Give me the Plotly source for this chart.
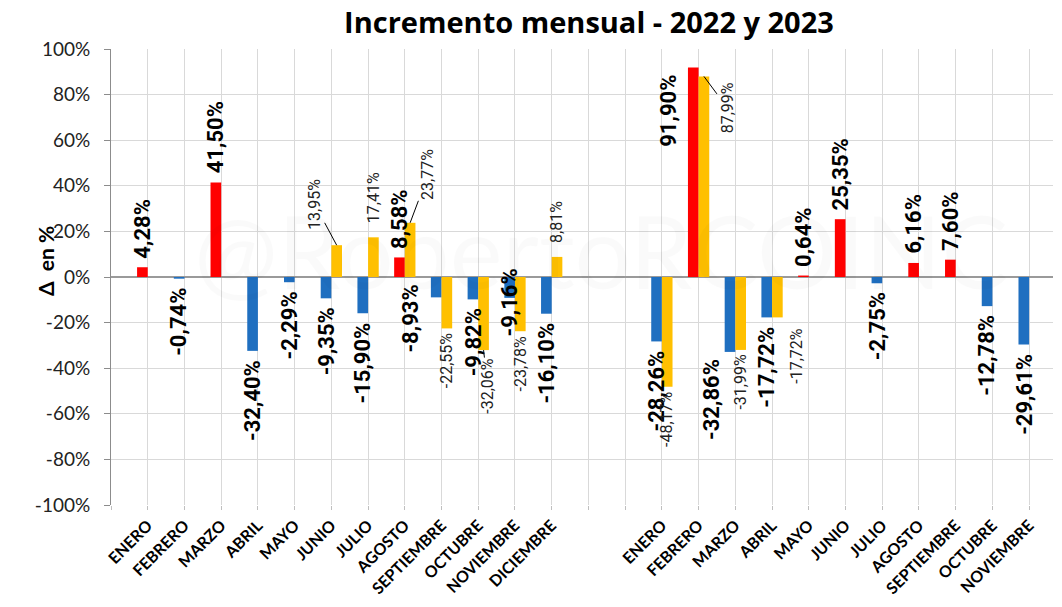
import plotly.graph_objects as go

# ---------------- data ----------------
meses_2022 = ["ENERO", "FEBRERO", "MARZO", "ABRIL", "MAYO", "JUNIO", "JULIO",
              "AGOSTO", "SEPTIEMBRE", "OCTUBRE", "NOVIEMBRE", "DICIEMBRE"]
meses_2023 = ["ENERO", "FEBRERO", "MARZO", "ABRIL", "MAYO", "JUNIO", "JULIO",
              "AGOSTO", "SEPTIEMBRE", "OCTUBRE", "NOVIEMBRE"]

var_2022 = [4.28, -0.74, 41.50, -32.40, -2.29, -9.35, -15.90, 8.58, -8.93, -9.82, -9.16, -16.10]
var2_2022 = [None, None, None, None, None, 13.95, 17.41, 23.77, -22.55, -32.06, -23.78, 8.81]

var_2023 = [-28.26, 91.90, -32.86, -17.72, 0.64, 25.35, -2.75, 6.16, 7.60, -12.78, -29.61]
var2_2023 = [-48.17, 87.99, -31.99, -17.72, None, None, None, None, None, None, None]

y_ticks = [-100, -80, -60, -40, -20, 0, 20, 40, 60, 80, 100]

# ---------------- layout helpers ----------------
GAP_SLOTS = 2  # empty category slots between years
pos_2022 = [i + 1 for i in range(len(meses_2022))]
pos_2023 = [len(meses_2022) + GAP_SLOTS + 1 + i for i in range(len(meses_2023))]
n_slots = pos_2023[-1]

xs = pos_2022 + pos_2023
serie_a = var_2022 + var_2023
serie_b = var2_2022 + var2_2023

BW = 0.29
RED, BLUE, YELLOW = "#FF0000", "#1F6FC0", "#FFC000"

# custom label offsets (px from bar end to label centre), arrow = leader line
custom = {
    ("b", 6): dict(dx=-22, dy=-41, arrow=True),
    ("b", 8): dict(dx=18, dy=-48, arrow=True),
    ("a", 9): dict(dx=-26, dy=21, arrow=False),
    ("b", 10): dict(dx=4, dy=36, arrow=True),
    ("a", 11): dict(dx=0, dy=5, arrow=False),
    ("a", 16): dict(dx=-25, dy=43, arrow=False),
    ("b", 16): dict(dx=23, dy=31, arrow=True),
    ("a", 17): dict(dx=-18, dy=48, arrow=False),
    ("b", 18): dict(dx=19, dy=38, arrow=False),
}


def fmt(v):
    return f"{v:.2f}".replace(".", ",") + "%"


fig = go.Figure()

fig.add_trace(go.Bar(
    x=xs, y=serie_a, width=BW, offset=-BW,
    marker=dict(color=[RED if v >= 0 else BLUE for v in serie_a], line=dict(width=0)),
    showlegend=False, hoverinfo="skip"))

bx = [x for x, v in zip(xs, serie_b) if v is not None]
by = [v for v in serie_b if v is not None]
fig.add_trace(go.Bar(
    x=bx, y=by, width=BW, offset=0,
    marker=dict(color=YELLOW, line=dict(width=0)),
    showlegend=False, hoverinfo="skip"))

annotations = []
big_font = dict(family="Roboto", size=22, color="#000000", weight="bold")
small_font = dict(family="Roboto", size=16, color="#222222")

# watermark (very faint, behind labels)
annotations.append(dict(
    x=0.52, y=0.56, xref="paper", yref="paper", text="@RobertoRCOINC",
    showarrow=False, font=dict(family="Lato", size=100, color="rgba(0,0,0,0.02)")))

for ser, vals in (("a", serie_a), ("b", serie_b)):
    for x, v in zip(xs, vals):
        if v is None:
            continue
        xc = x - BW / 2 if ser == "a" else x + BW / 2
        font = big_font if ser == "a" else small_font
        key = (ser, x)
        if key in custom:
            c = custom[key]
            if c["arrow"]:
                annotations.append(dict(
                    x=xc, y=v, xref="x", yref="y", text=fmt(v), textangle=-90,
                    showarrow=True, arrowhead=0, arrowwidth=1, arrowcolor="#000",
                    ax=c["dx"], ay=c["dy"], font=font, borderpad=0))
            else:
                annotations.append(dict(
                    x=xc, y=v, xref="x", yref="y", text=fmt(v), textangle=-90,
                    showarrow=False, xanchor="center", yanchor="middle",
                    xshift=c["dx"], yshift=-c["dy"], font=font, borderpad=0))
        else:
            if ser == "a":
                gap = 8
            else:
                gap = 13 if v >= 0 else 3
            annotations.append(dict(
                x=xc, y=v, xref="x", yref="y", text=fmt(v), textangle=-90,
                showarrow=False, xanchor="center",
                yanchor="bottom" if v >= 0 else "top",
                yshift=gap if v >= 0 else -gap, font=font, borderpad=0))

# axis title
annotations.append(dict(
    x=-0.07, y=0.535, xref="paper", yref="paper", text="Δ  en %", textangle=-90,
    xanchor="center", yanchor="middle",
    showarrow=False, font=dict(family="Lato", size=21, color="#000", weight="bold")))

tickvals = list(range(0, n_slots + 1))
ticktext = [""] * len(tickvals)
for p, m in zip(pos_2022, meses_2022):
    ticktext[p] = m
for p, m in zip(pos_2023, meses_2023):
    ticktext[p] = m

fig.update_layout(
    width=1062, height=607,
    margin=dict(l=111, r=9, t=49, b=102),
    paper_bgcolor="white", plot_bgcolor="white",
    barmode="overlay",
    hovermode=False,
    title=dict(text="<b>Incremento mensual - 2022 y 2023</b>", x=0.5546, xanchor="center",
               y=0.962, yanchor="middle",
               font=dict(family="Open Sans", size=29, color="#000")),
    annotations=annotations,
    xaxis=dict(
        range=[0, n_slots + 0.65], tickmode="array", tickvals=tickvals, ticktext=ticktext,
        tickangle=-45, tickfont=dict(family="Lato", size=16, color="#000", weight="bold"),
        showgrid=True, gridcolor="#d9d9d9", gridwidth=1,
        ticks="outside", ticklen=4, tickcolor="#bfbfbf",
        showline=False, zeroline=False, fixedrange=True),
    yaxis=dict(
        range=[-100, 100], tickmode="array", tickvals=y_ticks,
        ticktext=[f"{t}%" for t in y_ticks],
        tickfont=dict(family="Lato", size=19, color="#222"),
        showgrid=True, gridcolor="#d9d9d9", gridwidth=1,
        zeroline=True, zerolinecolor="#9a9a9a", zerolinewidth=1.5,
        showline=True, linecolor="#8c8c8c", linewidth=1,
        ticks="outside", ticklen=6, tickcolor="#8c8c8c", ticklabelstandoff=10,
        fixedrange=True),
)

fig.write_html("out.html",
               config={"displayModeBar": False, "staticPlot": True},
               post_script="document.body.style.margin='0';document.body.style.overflow='hidden';")
